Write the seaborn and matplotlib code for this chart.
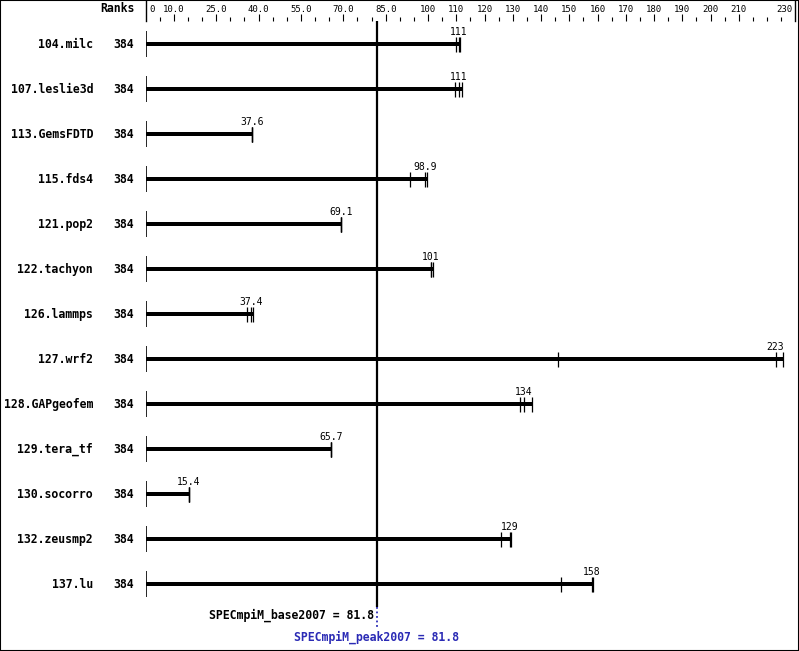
import matplotlib
matplotlib.use("Agg")
import matplotlib.pyplot as plt
import matplotlib.transforms as mtrans
from matplotlib.patches import Rectangle
import seaborn as sns
import pandas as pd

plt.rcParams['font.family'] = ['DejaVu Sans Mono', 'DejaVu Sans']

# ---------------- data ----------------
names = ['104.milc', '107.leslie3d', '113.GemsFDTD', '115.fds4', '121.pop2',
         '122.tachyon', '126.lammps', '127.wrf2', '128.GAPgeofem', '129.tera_tf',
         '130.socorro', '132.zeusmp2', '137.lu']
ranks = [384, 384, 384, 384, 384, 384, 384, 384, 384, 384, 384, 384, 384]
medians = [111, 111, 37.6, 98.9, 69.1, 101, 37.4, 223, 134, 65.7, 15.4, 129, 158]
runs = [
    [109.8, 111.0, 111.2],
    [109.7, 110.8, 111.9],
    [37.6, 37.6, 37.6],
    [93.5, 98.9, 99.5],
    [69.1, 69.1, 69.1],
    [100.9, 101.0, 101.6],
    [36.1, 37.4, 38.1],
    [146.0, 223.0, 225.5],
    [132.6, 133.8, 136.7],
    [65.7, 65.7, 65.7],
    [15.4, 15.4, 15.4],
    [126.0, 129.0, 129.2],
    [147.2, 158.0, 158.4],
]
base_score = 81.8
peak_score = 81.8
axis_label_vals = [0, 10, 25, 40, 55, 70, 85, 100, 110, 120, 130, 140, 150,
                   160, 170, 180, 190, 200, 210, 230]
axis_label_txt = ['0', '10.0', '25.0', '40.0', '55.0', '70.0', '85.0', '100',
                  '110', '120', '130', '140', '150', '160', '170', '180', '190',
                  '200', '210', '230']
axis_max = 230

# ---------------- layout ----------------
W, H = 799, 651
fig = plt.figure(figsize=(W / 100, H / 100), dpi=100)
fig.patch.set_facecolor('white')

x0_px, x1_px = 145.5, 795.3
hdr_h = 21
ax = fig.add_axes([x0_px / W, 0, (x1_px - x0_px) / W, (H - hdr_h) / H])
ax.patch.set_alpha(0)

df = pd.DataFrame({'name': names, 'bar': [max(r) for r in runs]})
sns.barplot(data=df, x='bar', y='name', orient='h', color='black',
            width=0.105, linewidth=0, saturation=1, ax=ax)

row_px = 45.0
first_px = 44.0
def py(p):  # pixel row -> data units
    return (p - first_px) / row_px

ax.set_xlim(0, axis_max)
ax.set_ylim(py(H), py(hdr_h))
ax.set_xticks([])
ax.set_yticks([])
ax.set_xlabel('')
ax.set_ylabel('')
for s in ax.spines.values():
    s.set_visible(False)

tick_half = 7.5 / row_px
zero_half = 13 / row_px
for i, (r, m) in enumerate(zip(runs, medians)):
    ax.vlines(0, i - zero_half, i + zero_half, color='black', lw=1.2)
    ax.vlines(r, i - tick_half, i + tick_half, color='black', lw=0.9)
    lab = f'{m:.0f}' if m >= 100 else f'{m:.1f}'
    ax.text(m, i - 9 / row_px, lab, ha='center', va='baseline', fontsize=7)

trans_names = mtrans.blended_transform_factory(fig.transFigure, ax.transData)
for i, (n, rk) in enumerate(zip(names, ranks)):
    ax.text(93 / W, i, n, ha='right', va='center', fontsize=8.3,
            fontweight='bold', transform=trans_names)
    ax.text(124 / W, i, str(rk), ha='center', va='center', fontsize=8.3,
            fontweight='bold', transform=trans_names)

# score line
ax.vlines(base_score, py(hdr_h), py(607), color='black', lw=1.6)
ax.vlines(peak_score, py(607), py(628), color='#2b2bb5', lw=1.3,
          linestyles=(0, (1, 1.5)))
base_off = mtrans.offset_copy(ax.transData, fig=fig, x=-3, y=0, units='dots')
ax.text(base_score, py(615), f'SPECmpiM_base2007 = {base_score}', ha='right',
        va='center', fontsize=8.3, fontweight='bold', transform=base_off,
        clip_on=False)
ax.text(peak_score, py(637), f'SPECmpiM_peak2007 = {peak_score}', ha='center',
        va='center', fontsize=8.3, fontweight='bold', color='#2b2bb5',
        clip_on=False)

# ---------------- header axis ----------------
hdr = fig.add_axes([x0_px / W, (H - hdr_h) / H, (x1_px - x0_px) / W, hdr_h / H])
hdr.patch.set_alpha(0)
hdr.set_xlim(0, axis_max)
hdr.set_ylim(0, 1)
hdr.spines['top'].set_visible(False)
hdr.spines['bottom'].set_visible(False)
hdr.spines['left'].set_linewidth(1.0)
hdr.spines['right'].set_linewidth(1.0)
majors = [v for v in axis_label_vals if 0 < v < axis_max]
minors = [v for v in range(5, axis_max, 5) if v not in majors]
hdr.set_xticks(majors)
hdr.set_xticks(minors, minor=True)
hdr.tick_params(axis='x', which='major', direction='in', length=5, width=0.8,
                labelbottom=False, bottom=True, top=False)
hdr.tick_params(axis='x', which='minor', direction='in', length=3, width=0.8,
                bottom=True, top=False)
hdr.set_yticks([])
for v, t in zip(axis_label_vals, axis_label_txt):
    ha = 'center'
    off = 0
    if v == 0:
        ha, off = 'left', 4
    elif v == axis_max:
        ha, off = 'right', -3
    tr = mtrans.offset_copy(hdr.transData, fig=fig, x=off, y=0, units='dots')
    hdr.text(v, 0.57, t, ha=ha, va='center', fontsize=6.5, transform=tr)

fig.text(117 / W, 1 - 9 / H, 'Ranks', ha='center', va='center', fontsize=8.3,
         fontweight='bold')

fig.add_artist(Rectangle((0, 0), 1, 1, transform=fig.transFigure, fill=False,
                         lw=1.5, edgecolor='black'))

fig.savefig('out.png', dpi=100, facecolor='white')
